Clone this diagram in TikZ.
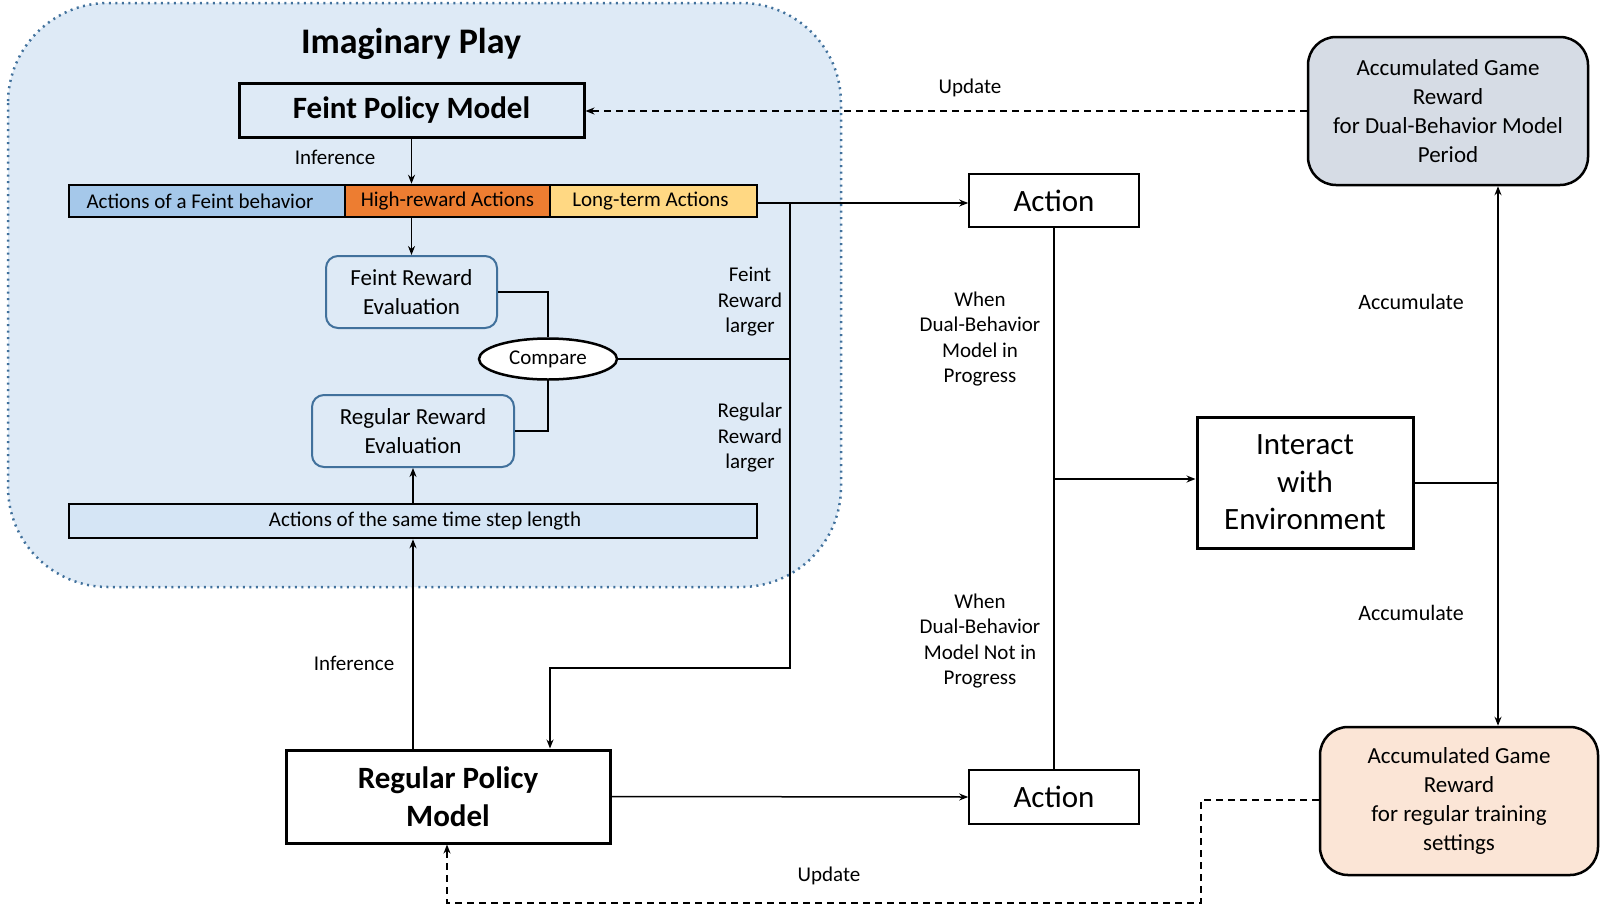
\documentclass[tikz,border=0pt]{standalone}
\usepackage{fontspec}
\setmainfont{Carlito}
\usetikzlibrary{arrows.meta,shapes.geometric}
\definecolor{bgblue}{HTML}{DEEAF6}
\definecolor{dotblue}{HTML}{41719C}
\definecolor{evalblue}{HTML}{41719C}
\definecolor{segblue}{HTML}{A5C8EA}
\definecolor{segorange}{HTML}{ED7D31}
\definecolor{segyellow}{HTML}{FFD883}
\definecolor{sbarblue}{HTML}{D5E5F5}
\definecolor{accgray}{HTML}{D6DCE5}
\definecolor{accpeach}{HTML}{FBE5D6}
\tikzset{
  lbl/.style={font=\fontsize{21}{25.5}\selectfont, align=center, inner sep=0pt},
  heavybox/.style={draw, line width=3pt, align=center, inner sep=0pt, font=\fontsize{31}{37}\selectfont\bfseries},
  actbox/.style={draw, line width=1.6pt, fill=white, inner sep=0pt, font=\fontsize{31}{37}\selectfont},
  envbox/.style={draw, line width=3pt, fill=white, align=center, inner sep=0pt, font=\fontsize{31}{37.5}\selectfont},
  seg/.style={draw, line width=2.5pt, inner sep=0pt, minimum height=32pt, font=\fontsize{21}{25}\selectfont},
  evalbox/.style={draw=evalblue, line width=2pt, fill=bgblue, rounded corners=12pt, align=center, inner sep=0pt, font=\fontsize{23}{28.5}\selectfont},
  accbox/.style={draw, line width=2.5pt, rounded corners=28pt, align=center, inner sep=0pt, font=\fontsize{23}{29}\selectfont},
  conn/.style={line width=1.5pt},
  arr/.style={conn, -{Stealth[length=9pt,width=7pt]}},
  dasharr/.style={line width=1.5pt, dash pattern=on 7pt off 5pt, -{Stealth[length=9pt,width=7pt]}},
}
\begin{document}
\begin{tikzpicture}[x=1pt,y=-1pt]
\useasboundingbox (0,0) rectangle (1601,908);
% imaginary play background
\draw[fill=bgblue, draw=dotblue, line width=2.5pt, dash pattern=on 2pt off 4.5pt, rounded corners=100pt] (8,3) rectangle (841,587);
\node[font=\fontsize{36}{40}\selectfont\bfseries, inner sep=0pt] (title) at (411,44) {Imaginary Play};

\node[heavybox, fill=bgblue, minimum width=345pt, minimum height=54pt] (fpm) at (411.5,110) {Feint Policy Model};
\node[lbl] (inf1) at (335,157) {Inference};

\node[seg, fill=segblue, minimum width=276pt] (s1) at (207,201) {\raisebox{-2pt}{Actions of a Feint behavior}\hspace*{14pt}};
\node[seg, fill=segorange, minimum width=205pt] (s2) at (447.5,201) {High-reward Actions};
\node[seg, fill=segyellow, minimum width=207pt] (s3) at (653.5,201) {\raisebox{-2pt}{Long-term Actions}\hspace*{6pt}};

\node[evalbox, minimum width=171pt, minimum height=72pt] (fre) at (411.5,292) {Feint Reward\\Evaluation};
\node[draw, ellipse, line width=2.5pt, fill=white, minimum width=138pt, minimum height=41pt, inner sep=0pt, font=\fontsize{21}{25}\selectfont] (cmp) at (548,359) {Compare};
\node[evalbox, minimum width=202pt, minimum height=72pt] (rre) at (413,431) {Regular Reward\\Evaluation};
\node[seg, fill=sbarblue, minimum width=688pt, minimum height=34pt] (sbar) at (413,521) {\hspace*{24pt}\raisebox{-1pt}{Actions of the same time step length}};

\node[lbl] (lf) at (750,302) {Feint\\Reward\\larger};
\node[lbl] (lr) at (750,438) {Regular\\Reward\\larger};

\node[heavybox, fill=white, minimum width=324pt, minimum height=93pt, font=\fontsize{31}{38}\selectfont\bfseries] (rpm) at (448,796.5) {Regular Policy\\Model};
\node[lbl] (inf2) at (354,663) {Inference};

\node[actbox, minimum width=170pt, minimum height=53pt] (act1) at (1054,200.5) {Action};
\node[actbox, minimum width=170pt, minimum height=54pt] (act2) at (1054,797) {Action};
\node[lbl] (w1) at (980,339) {When\\Dual-Behavior\\Model in\\Progress};
\node[lbl] (w2) at (980,641) {When\\Dual-Behavior\\Model Not in\\Progress};

\node[envbox, minimum width=216pt, minimum height=131pt] (env) at (1305,482.5) {Interact\\with\\Environment};
\node[lbl, font=\fontsize{22}{26}\selectfont] (ac1) at (1411,302) {Accumulate};
\node[lbl, font=\fontsize{22}{26}\selectfont] (ac2) at (1411,613) {Accumulate};

\node[accbox, fill=accgray, minimum width=280pt, minimum height=148pt] (acc1) at (1448,111) {Accumulated Game\\Reward\\for Dual-Behavior Model\\Period};
\node[accbox, fill=accpeach, minimum width=278pt, minimum height=148pt] (acc2) at (1459,801) {Accumulated Game\\Reward\\for regular training\\settings};

\node[lbl] (up1) at (970,88) {Update};
\node[lbl] (up2) at (829,876) {Update};

% connectors inside imaginary play
\draw[arr] (fpm.south) -- (fpm.south |- s1.north);
\draw[arr] (s1.south -| fre.north) -- (fre.north);
\draw[conn] (fre.east) -| (cmp.north);
\draw[conn] (rre.east) -| (cmp.south);
\coordinate (vx) at (790,203);
\draw[conn] (cmp.east) -- (cmp.east -| vx);
\draw[arr] (s3.east |- vx) -- (act1.west |- vx);
\coordinate (vb) at (790,668);
\coordinate (vc) at (550,668);
\draw[arr] (vx) -- (vb) -- (vc) -- (vc |- rpm.north);
\draw[arr] (sbar.north) -- (rre.south);
\draw[arr] (rpm.north -| sbar.south) -- (sbar.south);

% right part
\draw[arr] (rpm.east) -- (act2.west);
\draw[conn] (act1.south) -- (act2.north);
\coordinate (ej) at (1054,479);
\draw[arr] (ej) -- (ej -| env.west);
\coordinate (rj) at (1498,483);
\draw[conn] (env.east |- rj) -- (rj);
\draw[arr] (rj) -- (rj |- acc1.south);
\draw[arr] (rj) -- (rj |- acc2.north);

% update dashed
\draw[dasharr] (acc1.west) -- (acc1.west -| fpm.east);
\coordinate (d1) at (1201,800);
\coordinate (d2) at (1201,903);
\coordinate (d3) at (447,903);
\draw[dasharr] (acc2.west |- d1) -- (d1) -- (d2) -- (d3) -- (d3 |- rpm.south);
\end{tikzpicture}
\end{document}
